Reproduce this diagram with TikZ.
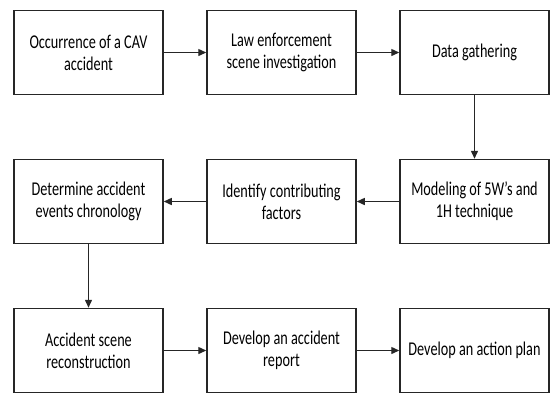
\documentclass[tikz,border=0pt]{standalone}
\usepackage{fontspec}
\setmainfont{Carlito}[FakeStretch=0.73]
\usetikzlibrary{arrows.meta}
\begin{document}
\begin{tikzpicture}[x=1pt,y=-1pt,
  box/.style={draw=black!85, line width=1.5pt, minimum width=149pt, minimum height=84pt,
    align=center, inner sep=1pt, font=\fontsize{19.5}{22}\selectfont},
  arr/.style={draw=black!85, line width=1.4pt, -{Triangle[length=8pt,width=7pt]}}]
\useasboundingbox (0,0) rectangle (552,392);
\node[box] (a) at (88.5,52.5) {Occurrence of a CAV\\accident};
\node[box] (b) at (281.5,52.5) {Law enforcement\\scene investigation};
\node[box] (c) at (474.5,52.5) {Data gathering};
\node[box] (d) at (474.5,201.5) {Modeling of 5W’s and\\1H technique};
\node[box] (e) at (281.5,201.5) {Identify contributing\\factors};
\node[box] (f) at (88.5,201.5) {Determine accident\\events chronology};
\node[box] (g) at (88.5,350.5) {Accident scene\\reconstruction};
\node[box] (h) at (281.5,350.5) {Develop an accident\\report};
\node[box] (i) at (474.5,350.5) {Develop an action plan};
\draw[arr] (a) -- (b);
\draw[arr] (b) -- (c);
\draw[arr] (c) -- (d);
\draw[arr] (d) -- (e);
\draw[arr] (e) -- (f);
\draw[arr] (f) -- (g);
\draw[arr] (g) -- (h);
\draw[arr] (h) -- (i);
\end{tikzpicture}
\end{document}
